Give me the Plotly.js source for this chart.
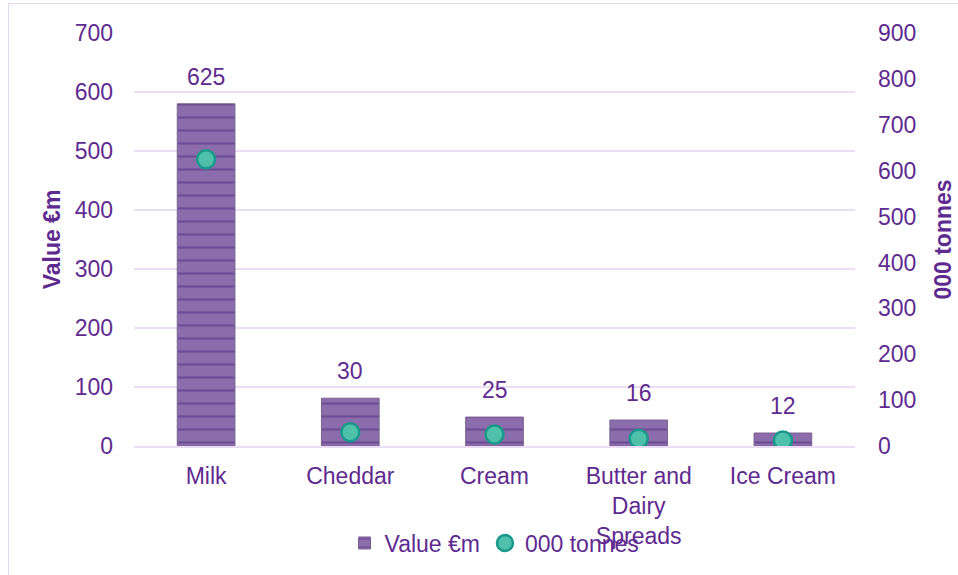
<!DOCTYPE html>
<html>
<head>
<meta charset="utf-8">
<script src="https://cdn.plot.ly/plotly-3.0.1.min.js"></script>
<style>
html,body{margin:0;padding:0;background:#fff;}
#chart{position:absolute;left:0;top:0;width:958px;height:575px;}
#frame{position:absolute;left:8px;top:3px;width:1000px;height:700px;border:1.5px solid #E6D8F0;pointer-events:none;}
</style>
</head>
<body>
<div id="chart"></div>
<div id="frame"></div>
<script>
const categories = ["Milk", "Cheddar", "Cream", "Butter and<br>Dairy<br>Spreads", "Ice Cream"];
const valueEuroM = [580, 81, 49, 44, 22];
const tonnes000 = [625, 30, 25, 16, 12];

const purple = "#5E2A90";
const font = "Liberation Sans, Arial, sans-serif";

const traces = [
  {
    type: "bar",
    name: "Value €m",
    x: categories,
    y: valueEuroM,
    width: 0.4,
    marker: {
      color: "#8C6DAB",
      line: {color: "#7A6090", width: 1},
      pattern: {shape: "-", size: 13, solidity: 0.16, fgcolor: "#6C4C94", bgcolor: "#8C6DAB"}
    },
    yaxis: "y"
  },
  {
    type: "scatter",
    mode: "markers",
    name: "000 tonnes",
    x: categories,
    y: tonnes000,
    yaxis: "y2",
    marker: {size: 18, color: "#4FC0AA", line: {color: "#1A998A", width: 2.5}}
  }
];

const labelAnnotations = categories.map((c, i) => ({
  x: c,
  y: valueEuroM[i],
  xref: "x",
  yref: "y",
  text: String(tonnes000[i]),
  showarrow: false,
  yanchor: "bottom",
  yshift: 12,
  font: {family: font, size: 23, color: purple}
}));

const layout = {
  width: 958,
  height: 575,
  margin: {l: 134, r: 103, t: 33, b: 128},
  paper_bgcolor: "#ffffff",
  plot_bgcolor: "#ffffff",
  font: {family: font, size: 23, color: purple},
  showlegend: true,
  annotations: labelAnnotations,
  legend: {
    orientation: "h",
    x: 0.5, xanchor: "center",
    y: -0.232, yanchor: "middle",
    font: {family: font, size: 23, color: purple},
    itemwidth: 30,
    tracegroupgap: 0,
    bgcolor: "rgba(0,0,0,0)"
  },
  xaxis: {
    type: "category",
    showgrid: false,
    showline: true,
    linecolor: "#EADDF5",
    linewidth: 1.5,
    ticks: "",
    ticklabelstandoff: 9,
    tickfont: {family: font, size: 23, color: purple},
    automargin: false
  },
  yaxis: {
    range: [0, 700],
    dtick: 100,
    showgrid: true,
    gridcolor: "#EADDF5",
    gridwidth: 1.5,
    zeroline: false,
    showline: false,
    ticks: "",
    ticklabelstandoff: 20,
    tickfont: {family: font, size: 23, color: purple},
    title: {text: "<b>Value €m</b>", font: {family: font, size: 23, color: purple}, standoff: 7},
    automargin: false
  },
  yaxis2: {
    overlaying: "y",
    side: "right",
    range: [0, 900],
    dtick: 100,
    showgrid: false,
    zeroline: false,
    showline: false,
    ticks: "",
    ticklabelstandoff: 22,
    tickfont: {family: font, size: 23, color: purple},
    title: {text: "<b>000 tonnes</b>", font: {family: font, size: 23, color: purple}, standoff: 19},
    automargin: false
  }
};

Plotly.newPlot("chart", traces, layout, {displayModeBar: false, staticPlot: true});
</script>
</body>
</html>
